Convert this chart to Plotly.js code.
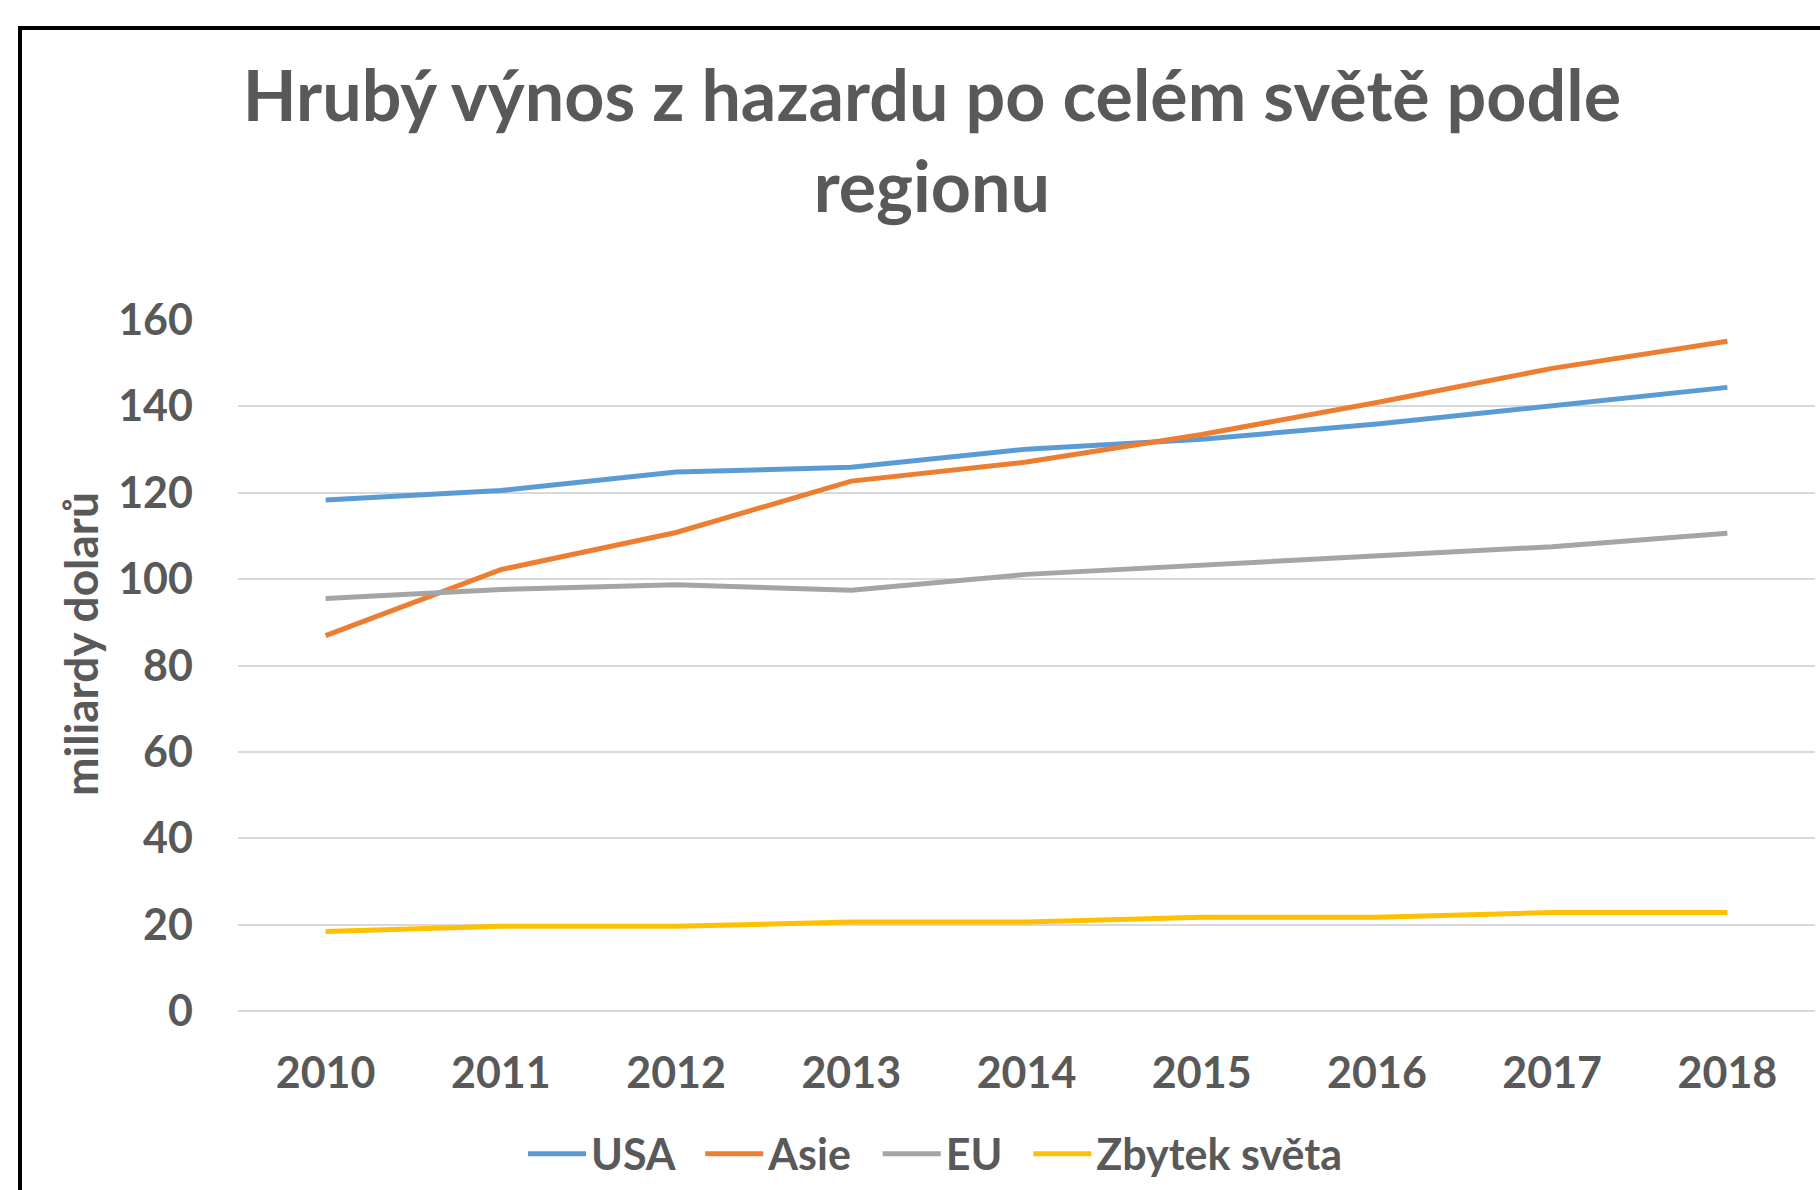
<!DOCTYPE html>
<html>
<head>
<meta charset="utf-8">
<script src="https://cdn.plot.ly/plotly-3.0.1.min.js"></script>
<style>
  html, body { margin: 0; padding: 0; background: #fff; overflow: hidden; }
  #wrap { position: relative; width: 1820px; height: 1190px; }
  #chart { position: absolute; left: 0; top: 0; width: 1820px; height: 1190px; }
  #frame { position: absolute; left: 18px; top: 26px; width: 2000px; height: 2000px;
           border-left: 4px solid #000; border-top: 4px solid #000; pointer-events: none; }
</style>
</head>
<body>
<div id="wrap">
  <div id="chart"></div>
  <div id="frame"></div>
</div>
<script>
const years = ['2010','2011','2012','2013','2014','2015','2016','2017','2018'];
const usa   = [118.3, 120.5, 124.8, 125.9, 130.1, 132.4, 135.9, 140.1, 144.4];
const asie  = [86.9, 102.2, 110.8, 122.7, 127.1, 133.5, 140.9, 148.8, 155.1];
const eu    = [95.5, 97.6, 98.7, 97.4, 101.1, 103.2, 105.4, 107.5, 110.6];
const zbytek = [18.4, 19.6, 19.6, 20.6, 20.6, 21.7, 21.7, 22.8, 22.8];
const seriesNames = ['USA', 'Asie', 'EU', 'Zbytek světa'];
const titleText = 'Hrubý výnos z hazardu po celém světě podle<br>regionu';
const yTitle = 'miliardy dolarů';

const colors = ['#5B9BD5', '#ED7D31', '#A5A5A5', '#FFC000'];
const values = [usa, asie, eu, zbytek];
const FONT = 'Lato, "Open Sans", sans-serif';
const GREY = '#595959';
const PAD = '\u00A0\u00A0';

const traces = values.map((v, i) => ({
  type: 'scatter', mode: 'lines', x: years, y: v,
  name: seriesNames[i] + (i < values.length - 1 ? PAD : ''),
  line: { color: colors[i], width: 5 }
}));

const layout = {
  width: 1820, height: 1190,
  paper_bgcolor: '#fff', plot_bgcolor: '#fff',
  margin: { l: 238, r: 5, t: 320, b: 178.5 },
  font: { family: FONT, color: GREY },
  title: {
    text: titleText,
    font: { family: FONT, size: 70, weight: 'bold', color: GREY },
    x: 0.512, xanchor: 'center', xref: 'container',
    y: 0.898, yanchor: 'top', yref: 'container'
  },
  xaxis: {
    type: 'category', range: [-0.5, 8.5],
    showgrid: false, zeroline: false, showline: false, ticks: '',
    tickfont: { family: FONT, size: 43, weight: 'bold', color: GREY },
    ticklabelstandoff: 33
  },
  yaxis: {
    range: [0, 160], dtick: 20, tick0: 0,
    showgrid: true, gridcolor: '#D9D9D9', gridwidth: 2,
    zeroline: true, zerolinecolor: '#D9D9D9', zerolinewidth: 2,
    showline: false, ticks: '',
    tickfont: { family: FONT, size: 43, weight: 'bold', color: GREY },
    ticklabelstandoff: 44
  },
  annotations: [{
    text: yTitle, textangle: -90, showarrow: false,
    xref: 'paper', yref: 'paper', x: -0.1002, y: 0.531,
    xanchor: 'center', yanchor: 'middle',
    font: { family: FONT, size: 46, weight: 'bold', color: GREY }
  }],
  legend: {
    orientation: 'h', xref: 'container', yref: 'container',
    x: 0.514, xanchor: 'center', y: 0.0305, yanchor: 'middle',
    font: { family: FONT, size: 43, weight: 'bold', color: GREY },
    itemwidth: 58, tracegroupgap: 0
  },
  showlegend: true
};

Plotly.newPlot('chart', traces, layout, { displayModeBar: false, staticPlot: true });
</script>
</body>
</html>
